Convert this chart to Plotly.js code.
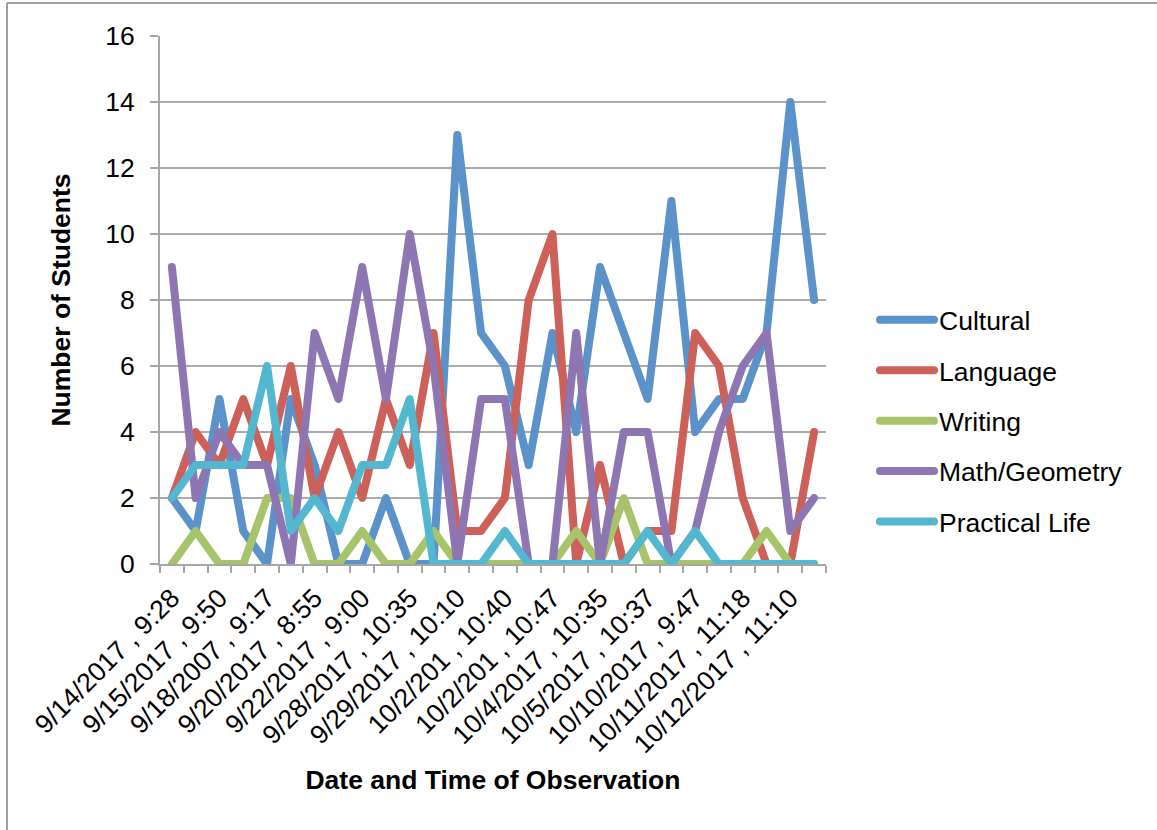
<!DOCTYPE html>
<html>
<head>
<meta charset="utf-8">
<script src="https://cdn.plot.ly/plotly-3.0.1.min.js"></script>
<style>
  html, body { margin: 0; padding: 0; background: #ffffff; }
  #chart { width: 1157px; height: 830px; }
  .scatterlayer path.js-line, .legendlines path { stroke-linejoin: round; stroke-linecap: round; }
</style>
</head>
<body>
<div id="chart"></div>
<script>
// Category tick labels (every second observation is labelled)
const tickLabels = [
  '9/14/2017 , 9:28', '9/15/2017 , 9:50', '9/18/2007 , 9:17', '9/20/2017 , 8:55',
  '9/22/2017 , 9:00', '9/28/2017 , 10:35', '9/29/2017 , 10:10', '10/2/201 , 10:40',
  '10/2/201 , 10:47', '10/4/2017 , 10:35', '10/5/2017 , 10:37', '10/10/2017 , 9:47',
  '10/11/2017 , 11:18', '10/12/2017 , 11:10'
];

// Series values (number of students per observation)
const cultural      = [2,1,5,1,0,5,3,0,0,2,0,0,13,7,6,3,7,4,9,7,5,11,4,5,5,7,14,8];
const language      = [2,4,3,5,3,6,2,4,2,5,3,7,1,1,2,8,10,0,3,0,1,1,7,6,2,0,0,4];
const writing       = [0,1,0,0,2,2,0,0,1,0,0,1,0,0,0,0,0,1,0,2,0,0,0,0,0,1,0,0];
const mathGeometry  = [9,2,4,3,3,0,7,5,9,5,10,6,0,5,5,0,0,7,0,4,4,0,1,4,6,7,1,2];
const practicalLife = [2,3,3,3,6,1,2,1,3,3,5,0,0,0,1,0,0,0,0,0,1,0,1,0,0,0,0,0];

const seriesNames  = ['Cultural', 'Language', 'Writing', 'Math/Geometry', 'Practical Life'];
const seriesValues = [cultural, language, writing, mathGeometry, practicalLife];
const seriesColors = ['#5A92C9', '#CD6058', '#A8C46A', '#8E76B2', '#52B7CF'];

const nObs = cultural.length;
const xIdx = Array.from({length: nObs}, (_, i) => i);
const tickVals = tickLabels.map((_, k) => 2 * k);

const traces = seriesNames.map((name, s) => ({
  type: 'scatter',
  mode: 'lines',
  name: name,
  legendgroup: 'g' + s,
  x: xIdx,
  y: seriesValues[s],
  line: { color: seriesColors[s], width: 8, shape: 'linear' },
  hoverinfo: 'x+y+name'
}));

const FONT = 'Liberation Sans, Arial, Helvetica, sans-serif';
const FS = 26.5;

// paper coordinates helpers for the outer chart border
const plotL = 160, plotR = 826, plotT = 36, plotB = 564;
const px = v => (v - plotL) / (plotR - plotL);
const py = v => (plotB - v) / (plotB - plotT);

const layout = {
  width: 1157,
  height: 830,
  paper_bgcolor: '#ffffff',
  plot_bgcolor: '#ffffff',
  margin: { l: plotL, r: 1157 - plotR, t: plotT, b: 830 - plotB, pad: 0 },
  font: { family: FONT, size: FS, color: '#000000' },
  showlegend: true,
  legend: {
    x: px(875), xanchor: 'left',
    y: py(421), yanchor: 'middle',
    font: { family: FONT, size: FS, color: '#000000' },
    tracegroupgap: 13,
    itemwidth: 54,
    bgcolor: 'rgba(0,0,0,0)',
    borderwidth: 0
  },
  xaxis: {
    type: 'linear',
    range: [-0.5, nObs - 0.5],
    tickmode: 'array',
    tickvals: tickVals,
    ticktext: tickLabels,
    tickangle: -45,
    ticks: '',
    ticklabelstandoff: 6,
    tickfont: { family: FONT, size: FS, color: '#000000' },
    showgrid: false,
    zeroline: false,
    showline: true,
    linecolor: '#a6a6a6',
    linewidth: 2,
    minor: { tick0: -0.5, dtick: 1, ticks: 'outside', ticklen: 7, tickwidth: 2, tickcolor: '#a6a6a6', showgrid: false },
    title: { text: '<b>Date and Time of Observation</b>', font: { family: FONT, size: FS, color: '#000000' }, standoff: 12 },
    automargin: false,
    fixedrange: true
  },
  yaxis: {
    range: [0, 16],
    dtick: 2,
    tick0: 0,
    ticks: 'outside',
    ticklen: 8,
    tickwidth: 2,
    tickcolor: '#a6a6a6',
    ticklabelstandoff: 10,
    tickfont: { family: FONT, size: FS, color: '#000000' },
    showgrid: true,
    gridcolor: '#ababab',
    gridwidth: 2,
    zeroline: false,
    showline: true,
    linecolor: '#a6a6a6',
    linewidth: 2,
    title: { text: '<b>Number of Students</b>', font: { family: FONT, size: FS, color: '#000000' }, standoff: 27 },
    automargin: false,
    fixedrange: true
  },
  shapes: [
    { type: 'line', xref: 'paper', yref: 'paper', x0: px(7), x1: px(7), y0: py(3), y1: py(830), line: { color: '#a0a0a0', width: 2 } },
    { type: 'line', xref: 'paper', yref: 'paper', x0: px(7), x1: px(1157), y0: py(3), y1: py(3), line: { color: '#a0a0a0', width: 2 } }
  ]
};

Plotly.newPlot('chart', traces, layout, { displayModeBar: false, staticPlot: true });
</script>
</body>
</html>
